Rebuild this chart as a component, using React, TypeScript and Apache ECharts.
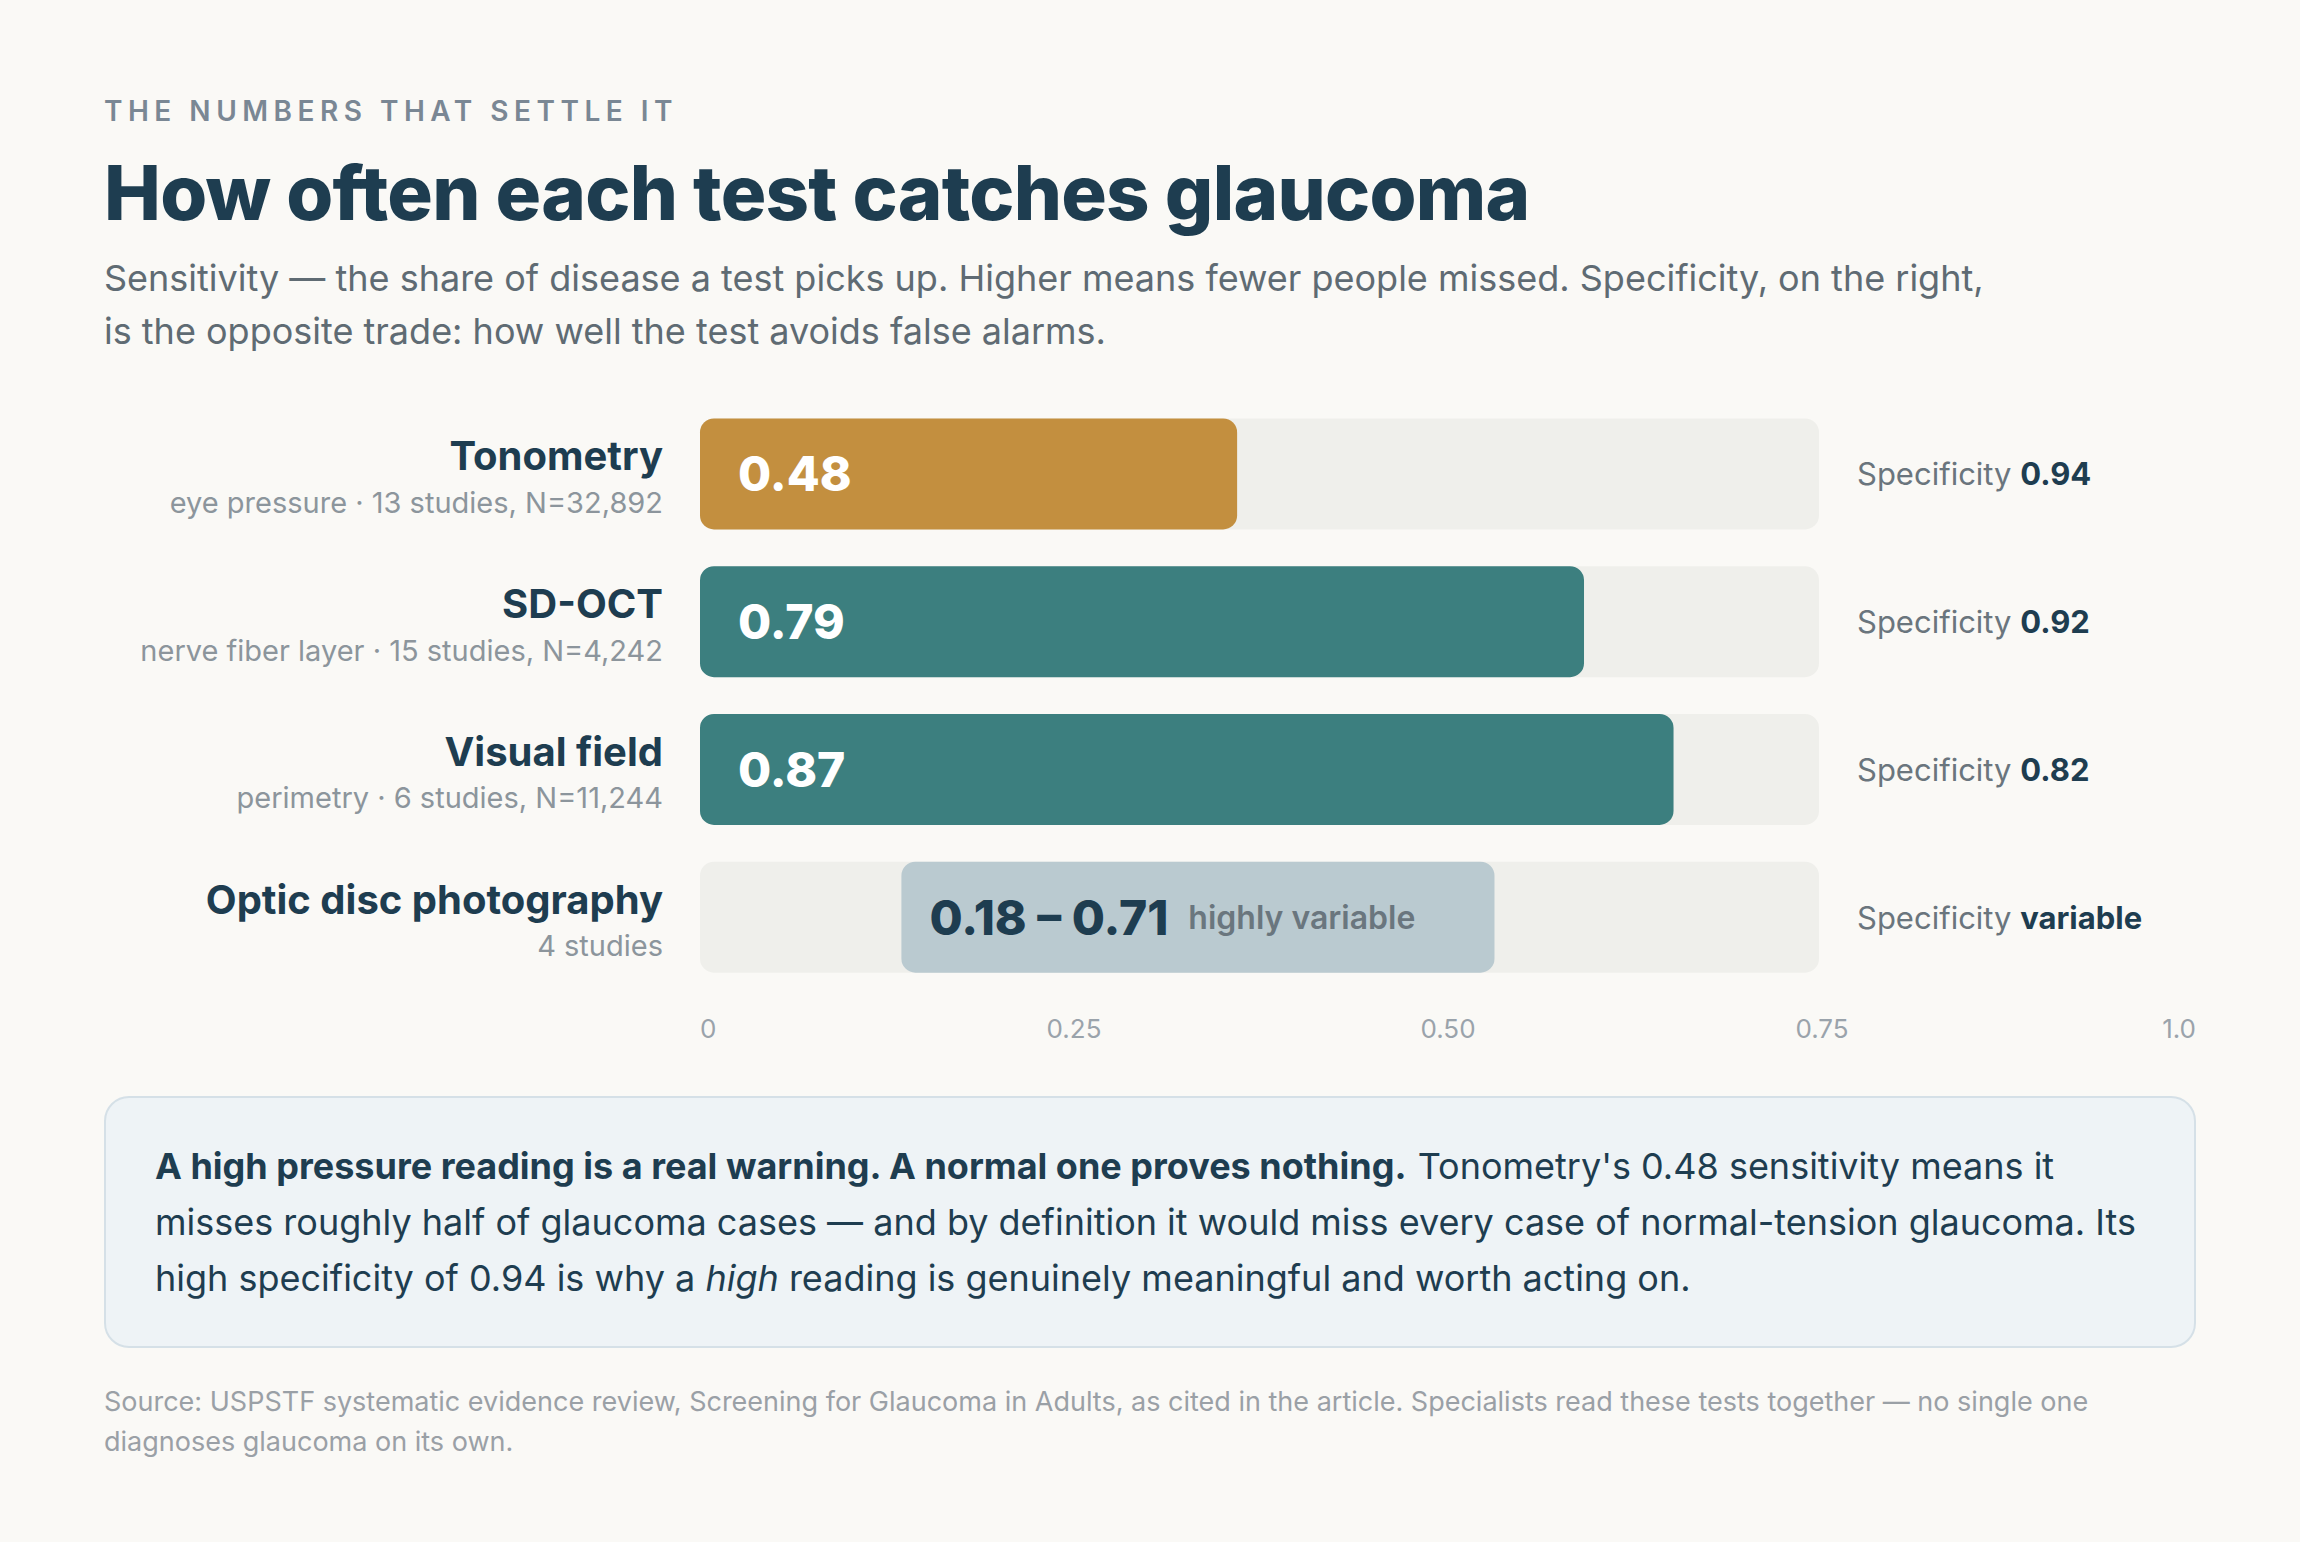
import { useEffect, useRef } from "react";
import * as echarts from "echarts";

const tests = ["Tonometry", "SD-OCT", "Visual field", "Optic disc photography"];
const details = [
  "eye pressure · 13 studies, N=32,892",
  "nerve fiber layer · 15 studies, N=4,242",
  "perimetry · 6 studies, N=11,244",
  "4 studies",
];
// sensitivity, low and high end (a single value has low = 0)
const sensLow = [0, 0, 0, 0.18];
const sensHigh = [0.48, 0.79, 0.87, 0.71];
const specificity = ["0.94", "0.92", "0.82", "variable"];
const axisTicks = ["0", "0.25", "0.50", "0.75", "1.0"];
const rangeNote = "highly variable";

const EYEBROW = "THE NUMBERS THAT SETTLE IT";
const TITLE = "How often each test catches glaucoma";
const SUBTITLE =
  "Sensitivity — the share of disease a test picks up. Higher means fewer people missed. Specificity, on the right,\nis the opposite trade: how well the test avoids false alarms.";
const NOTE =
  "{b|A high pressure reading is a real warning. A normal one proves nothing.} Tonometry's 0.48 sensitivity means it\n" +
  "misses roughly half of glaucoma cases — and by definition it would miss every case of normal-tension glaucoma. Its\n" +
  "high specificity of 0.94 is why a {i|high} reading is genuinely meaningful and worth acting on.";
const SOURCE =
  "Source: USPSTF systematic evidence review, Screening for Glaucoma in Adults, as cited in the article. Specialists read these tests together — no single one\ndiagnoses glaucoma on its own.";

const FONT = "Inter, 'Noto Sans', sans-serif";
const NAVY = "#1E3D50";
const barColors = ["#C38F3F", "#3C7F7F", "#3C7F7F", "#BACAD0"];

export default function App() {
  const ref = useRef<HTMLDivElement | null>(null);

  useEffect(() => {
    if (!ref.current) return;
    const el = ref.current;
    const chart = echarts.init(el, null, { renderer: "svg" });

    const option: echarts.EChartsOption = {
      animation: false,
      backgroundColor: "#FAF9F6",
      textStyle: { fontFamily: FONT },
      grid: [
        { left: 700, width: 1119, top: 400, height: 591 },
        { left: 700, right: 104, top: 1000, height: 10 },
      ],
      xAxis: [
        { gridIndex: 0, type: "value", min: 0, max: 1, show: false },
        {
          gridIndex: 1,
          type: "value",
          min: 0,
          max: 1,
          interval: 0.25,
          axisLine: { show: false },
          axisTick: { show: false },
          splitLine: { show: false },
          axisLabel: {
            margin: 5,
            fontSize: 26,
            color: "#9AA3AB",
            fontFamily: FONT,
            alignMinLabel: "left",
            alignMaxLabel: "right",
            formatter: (v: number) => axisTicks[Math.round(v * 4)] ?? "",
          },
        },
      ],
      yAxis: [
        {
          gridIndex: 0,
          type: "category",
          data: tests,
          inverse: true,
          axisLine: { show: false },
          axisTick: { show: false },
          axisLabel: {
            margin: 37,
            formatter: (_v: string, i: number) => `{n|${tests[i]}}\n{s|${details[i]}}`,
            rich: {
              n: {
                fontSize: 40,
                fontWeight: 700,
                color: NAVY,
                lineHeight: 57,
                align: "right",
                fontFamily: FONT,
              },
              s: {
                fontSize: 29,
                color: "#8C959C",
                lineHeight: 36,
                align: "right",
                fontFamily: FONT,
              },
            },
          },
        },
        {
          gridIndex: 0,
          type: "category",
          data: tests,
          inverse: true,
          position: "right",
          axisLine: { show: false },
          axisTick: { show: false },
          axisLabel: {
            margin: 38,
            formatter: (_v: string, i: number) => `{a|Specificity }{b|${specificity[i]}}`,
            rich: {
              a: { fontSize: 31, color: "#6A757D", fontFamily: FONT },
              b: { fontSize: 31, fontWeight: 700, color: NAVY, fontFamily: FONT },
            },
          },
        },
        { gridIndex: 1, type: "value", show: false },
      ],
      series: [
        {
          name: "base",
          type: "bar",
          stack: "sens",
          barWidth: 111,
          data: sensLow,
          itemStyle: { color: "transparent" },
          showBackground: true,
          backgroundStyle: { color: "#EFEFEB", borderRadius: 14 },
          silent: true,
        },
        {
          name: "sensitivity",
          type: "bar",
          stack: "sens",
          barWidth: 111,
          data: sensHigh.map((h, i) => {
            const lo = sensLow[i];
            const isRange = lo > 0;
            return {
              value: +(h - lo).toFixed(2),
              itemStyle: { color: barColors[i], borderRadius: 14 },
              label: isRange
                ? {
                    show: true,
                    position: "insideLeft",
                    distance: 28,
                    formatter: `{r|${lo.toFixed(2)} – ${h.toFixed(2)}}{g|${rangeNote}}`,
                    rich: {
                      r: { fontSize: 48, fontWeight: 800, color: NAVY, fontFamily: FONT },
                      g: {
                        fontSize: 32,
                        fontWeight: 600,
                        color: "#6A767E",
                        fontFamily: FONT,
                        padding: [0, 0, 0, 20],
                      },
                    },
                  }
                : {
                    show: true,
                    position: "insideLeft",
                    distance: 38,
                    formatter: h.toFixed(2),
                    fontSize: 48,
                    fontWeight: 800,
                    color: "#FFFFFF",
                    fontFamily: FONT,
                  },
            };
          }),
        },
      ],
      graphic: [
        {
          type: "text",
          x: 104,
          y: 111,
          style: {
            text: EYEBROW,
            fontSize: 28,
            fontWeight: 600,
            fontFamily: FONT,
            fill: "#7A8794",
            verticalAlign: "middle",
          },
        },
        {
          type: "text",
          x: 104,
          y: 192,
          style: {
            text: TITLE,
            fontSize: 76,
            fontWeight: 800,
            fontFamily: FONT,
            fill: NAVY,
            verticalAlign: "middle",
          },
        },
        {
          type: "text",
          x: 104,
          y: 251,
          style: {
            text: SUBTITLE,
            fontSize: 36,
            lineHeight: 53,
            fontFamily: FONT,
            fill: "#5F6B73",
            verticalAlign: "top",
          },
        },
        {
          type: "rect",
          shape: { x: 105, y: 1097, width: 2090, height: 250, r: 24 },
          style: { fill: "#EEF3F6", stroke: "#D5E0E7", lineWidth: 2 },
        },
        {
          type: "text",
          x: 155,
          y: 1138,
          style: {
            text: NOTE,
            fontSize: 36,
            lineHeight: 56,
            fontFamily: FONT,
            fill: NAVY,
            verticalAlign: "top",
            rich: {
              b: { fontSize: 36, lineHeight: 56, fontWeight: 700, fontFamily: FONT, fill: NAVY },
              i: { fontSize: 36, lineHeight: 56, fontStyle: "italic", fontFamily: FONT, fill: NAVY },
            },
          },
        },
        {
          type: "text",
          x: 104,
          y: 1381,
          style: {
            text: SOURCE,
            fontSize: 27,
            lineHeight: 40,
            fontFamily: FONT,
            fill: "#9AA0A6",
            verticalAlign: "top",
          },
        },
      ],
    };

    chart.setOption(option);

    // zrender has no letterSpacing, so the tracking is set on the svg text nodes
    const track = () => {
      el.querySelectorAll("text").forEach((t) => {
        if (t.textContent === EYEBROW) t.setAttribute("letter-spacing", "5.5");
        if (t.textContent === TITLE) t.setAttribute("letter-spacing", "-0.75");
      });
    };
    track();
    chart.on("finished", track);

    return () => {
      chart.dispose();
    };
  }, []);

  return (
    <div
      ref={ref}
      style={{ position: "absolute", left: 0, top: 0, width: 2300, height: 1542 }}
    />
  );
}
